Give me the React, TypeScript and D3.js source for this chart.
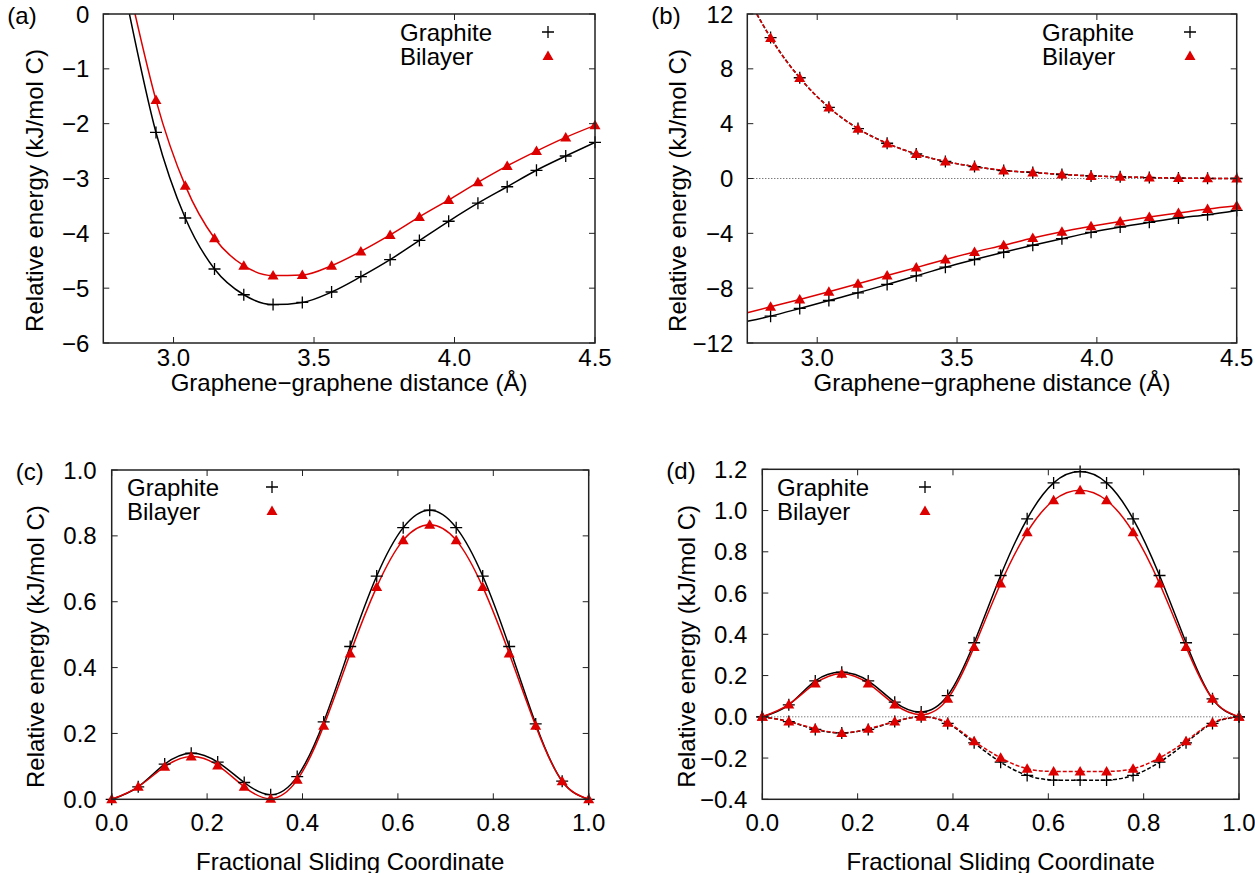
import React from 'react';
import * as d3 from 'd3';

// interlayer distance (Å)
const distA = [2.9375, 3.0417, 3.1458, 3.25, 3.3542, 3.4583, 3.5625, 3.6667, 3.7708, 3.875, 3.9792, 4.0833, 4.1875, 4.2917, 4.3958, 4.5];
const distB = [2.8333, 2.9375, 3.0417, 3.1458, 3.25, 3.3542, 3.4583, 3.5625, 3.6667, 3.7708, 3.875, 3.9792, 4.0833, 4.1875, 4.2917, 4.3958, 4.5];

// (a) total binding
const graphiteTotal = [-2.16, -3.72, -4.65, -5.12, -5.30, -5.26, -5.07, -4.79, -4.48, -4.13, -3.78, -3.45, -3.15, -2.85, -2.59, -2.34];
const bilayerTotal = [-1.57, -3.13, -4.09, -4.59, -4.77, -4.76, -4.59, -4.33, -4.03, -3.70, -3.39, -3.07, -2.77, -2.50, -2.25, -2.03];
// where the fitted curves leave the top of the frame
const graphiteTotalLead: [number, number] = [2.843, 0];
const bilayerTotalLead: [number, number] = [2.863, 0];

// (b) components
const graphiteAttr = [-10.04, -9.48, -8.90, -8.34, -7.73, -7.10, -6.47, -5.91, -5.38, -4.87, -4.39, -3.93, -3.54, -3.20, -2.88, -2.64, -2.33];
const bilayerAttr = [-9.35, -8.82, -8.26, -7.68, -7.08, -6.50, -5.91, -5.36, -4.87, -4.34, -3.88, -3.49, -3.13, -2.81, -2.52, -2.23, -1.99];
const graphiteRep = [10.28, 7.35, 5.19, 3.64, 2.57, 1.79, 1.24, 0.87, 0.58, 0.44, 0.29, 0.19, 0.12, 0.07, 0.03, 0.01, 0.0];
const bilayerRep = [10.25, 7.33, 5.18, 3.63, 2.56, 1.79, 1.24, 0.87, 0.59, 0.44, 0.30, 0.19, 0.12, 0.07, 0.03, 0.01, 0.0];
const graphiteAttrLead: [number, number] = [2.75, -10.42];
const bilayerAttrLead: [number, number] = [2.75, -9.80];
const repLead: [number, number] = [2.784, 12];

// sliding coordinate
const frac = [0, 0.0556, 0.1111, 0.1667, 0.2222, 0.2778, 0.3333, 0.3889, 0.4444, 0.5, 0.5556, 0.6111, 0.6667, 0.7222, 0.7778, 0.8333, 0.8889, 0.9444, 1];

// (c)
const graphiteSlideC = [0, 0.038, 0.107, 0.140, 0.113, 0.051, 0.014, 0.069, 0.235, 0.464, 0.678, 0.825, 0.878, 0.825, 0.678, 0.464, 0.229, 0.055, 0];
const bilayerSlideC = [0, 0.038, 0.099, 0.130, 0.103, 0.038, 0.002, 0.059, 0.223, 0.443, 0.645, 0.787, 0.834, 0.787, 0.645, 0.443, 0.223, 0.055, 0];

// (d)
const graphiteSlideD = [0, 0.058, 0.174, 0.216, 0.174, 0.071, 0.023, 0.103, 0.359, 0.685, 0.960, 1.134, 1.189, 1.134, 0.960, 0.685, 0.359, 0.087, 0];
const bilayerSlideD = [0, 0.060, 0.162, 0.209, 0.162, 0.060, 0.010, 0.087, 0.339, 0.646, 0.895, 1.050, 1.099, 1.050, 0.895, 0.646, 0.339, 0.087, 0];
const graphiteDispD = [0, -0.023, -0.061, -0.078, -0.061, -0.023, 0, -0.032, -0.126, -0.220, -0.284, -0.307, -0.307, -0.307, -0.284, -0.220, -0.126, -0.032, 0];
const bilayerDispD = [0, -0.023, -0.058, -0.078, -0.058, -0.023, 0, -0.029, -0.118, -0.199, -0.252, -0.265, -0.265, -0.265, -0.252, -0.199, -0.118, -0.029, 0];

const ticksDist = [3.0, 3.5, 4.0, 4.5];
const ticksFrac = [0, 0.2, 0.4, 0.6, 0.8, 1.0];
const ticksYA = [0, -1, -2, -3, -4, -5, -6];
const ticksYB = [12, 8, 4, 0, -4, -8, -12];
const ticksYC = [0, 0.2, 0.4, 0.6, 0.8, 1.0];
const ticksYD = [-0.4, -0.2, 0, 0.2, 0.4, 0.6, 0.8, 1.0, 1.2];

const RED = '#dd0000';
const FONT = '"Liberation Sans", Arial, Helvetica, sans-serif';
const minus = (s: string) => s.replace('-', '\u2212');

type Series = {
  xs: number[];
  ys: number[];
  lead?: [number, number];
  color: string;
  marker: 'plus' | 'tri';
  dashed?: boolean;
};

type PanelProps = {
  id: string;
  label: string;
  box: { l: number; r: number; t: number; b: number };
  xDomain: [number, number];
  yDomain: [number, number];
  xTicks: number[];
  yTicks: number[];
  xFmt: (v: number) => string;
  yFmt: (v: number) => string;
  xTitle: string;
  series: Series[];
  curve: d3.CurveFactory;
  zeroLine?: boolean;
  legend: { x: number; sym: number; y: number };
  yTitleX: number;
  xLabelY: number;
  xTitleY: number;
  tickGap: number;
};

const Marker = ({ kind, x, y, color }: { kind: string; x: number; y: number; color: string }) =>
  kind === 'plus' ? (
    <path d={`M${x - 6},${y}H${x + 6}M${x},${y - 6}V${y + 6}`} stroke={color} strokeWidth={1.3} fill="none" />
  ) : (
    <path d={`M${x},${y - 5.5}L${x + 5.5},${y + 4}L${x - 5.5},${y + 4}Z`} fill={color} />
  );

const Panel = (p: PanelProps) => {
  const { box } = p;
  const x = d3.scaleLinear().domain(p.xDomain).range([box.l, box.r]);
  const y = d3.scaleLinear().domain(p.yDomain).range([box.b, box.t]);
  const line = d3
    .line<[number, number]>()
    .x((d) => x(d[0]))
    .y((d) => y(d[1]))
    .curve(p.curve);
  const tl = 6;
  const midY = (box.t + box.b) / 2 + 12;
  return (
    <g fontFamily={FONT} fontSize={24}>
      <defs>
        <clipPath id={`clip-${p.id}`}>
          <rect x={box.l} y={box.t} width={box.r - box.l} height={box.b - box.t} />
        </clipPath>
      </defs>
      {p.zeroLine && (
        <line x1={box.l} x2={box.r} y1={y(0)} y2={y(0)} stroke="#444" strokeWidth={1} strokeDasharray="1,2" />
      )}
      <g clipPath={`url(#clip-${p.id})`}>
        {p.series.map((s, i) => {
          const pts: [number, number][] = s.xs.map((v, j) => [v, s.ys[j]]);
          if (s.lead) pts.unshift(s.lead);
          return (
            <path
              key={i}
              d={line(pts) || ''}
              fill="none"
              stroke={s.color}
              strokeWidth={1.5}
              strokeDasharray={s.dashed ? '4,2' : undefined}
            />
          );
        })}
      </g>
      {p.series.map((s, i) => (
        <g key={i}>
          {s.xs.map((v, j) => (
            <Marker key={j} kind={s.marker} x={x(v)} y={y(s.ys[j])} color={s.color} />
          ))}
        </g>
      ))}
      {/* frame and ticks */}
      <rect x={box.l} y={box.t} width={box.r - box.l} height={box.b - box.t} fill="none" stroke="#222" strokeWidth={1.5} />
      {p.xTicks.map((v) => (
        <g key={v}>
          <line x1={x(v)} x2={x(v)} y1={box.b} y2={box.b - tl} stroke="#222" strokeWidth={1} />
          <line x1={x(v)} x2={x(v)} y1={box.t} y2={box.t + tl} stroke="#222" strokeWidth={1} />
          <text x={x(v)} y={p.xLabelY} textAnchor="middle" dominantBaseline="central">
            {p.xFmt(v)}
          </text>
        </g>
      ))}
      {p.yTicks.map((v) => (
        <g key={v}>
          <line x1={box.l} x2={box.l + tl} y1={y(v)} y2={y(v)} stroke="#222" strokeWidth={1} />
          <line x1={box.r} x2={box.r - tl} y1={y(v)} y2={y(v)} stroke="#222" strokeWidth={1} />
          <text x={box.l - p.tickGap} y={y(v)} textAnchor="end" dominantBaseline="central">
            {p.yFmt(v)}
          </text>
        </g>
      ))}
      <text
        transform={`translate(${p.yTitleX},${midY}) rotate(-90)`}
        textAnchor="middle"
        dominantBaseline="central"
      >
        Relative energy (kJ/mol C)
      </text>
      <text x={(box.l + box.r) / 2} y={p.xTitleY} textAnchor="middle" dominantBaseline="central">
        {p.xTitle}
      </text>
      <text x={p.box.l - (p.id === 'a' || p.id === 'c' ? 96 : 96)} y={box.t + 1} dominantBaseline="central">
        {p.label}
      </text>
      {/* legend */}
      <text x={p.legend.x} y={p.legend.y} dominantBaseline="central">Graphite</text>
      <text x={p.legend.x} y={p.legend.y + 24} dominantBaseline="central">Bilayer</text>
      <Marker kind="plus" x={p.legend.sym} y={p.legend.y} color="#000" />
      <Marker kind="tri" x={p.legend.sym} y={p.legend.y + 24} color={RED} />
    </g>
  );
};

const fmtInt = (v: number) => minus(d3.format('d')(v));
const fmt1 = (v: number) => minus(d3.format('.1f')(v));

export default function App() {
  return (
    <svg width={1255} height={873} style={{ position: 'absolute', left: 0, top: 0, background: '#fff' }}>
      <Panel
        id="a"
        label="(a)"
        box={{ l: 103.3, r: 595, t: 14, b: 343 }}
        xDomain={[2.75, 4.5]}
        yDomain={[-6, 0]}
        xTicks={ticksDist}
        yTicks={ticksYA}
        xFmt={fmt1}
        yFmt={fmtInt}
        xTitle="Graphene−graphene distance (Å)"
        curve={d3.curveMonotoneX}
        series={[
          { xs: distA, ys: graphiteTotal, lead: graphiteTotalLead, color: '#000', marker: 'plus' },
          { xs: distA, ys: bilayerTotal, lead: bilayerTotalLead, color: RED, marker: 'tri' },
        ]}
        legend={{ x: 400, sym: 548, y: 32 }}
        yTitleX={34}
        xLabelY={357}
        xTitleY={382}
        tickGap={14}
      />
      <Panel
        id="b"
        label="(b)"
        box={{ l: 747.3, r: 1236.7, t: 14, b: 343 }}
        xDomain={[2.75, 4.5]}
        yDomain={[-12, 12]}
        xTicks={ticksDist}
        yTicks={ticksYB}
        xFmt={fmt1}
        yFmt={fmtInt}
        xTitle="Graphene−graphene distance (Å)"
        curve={d3.curveMonotoneX}
        zeroLine
        series={[
          { xs: distB, ys: graphiteRep, lead: repLead, color: '#000', marker: 'plus', dashed: true },
          { xs: distB, ys: graphiteAttr, lead: graphiteAttrLead, color: '#000', marker: 'plus' },
          { xs: distB, ys: bilayerRep, lead: repLead, color: RED, marker: 'tri', dashed: true },
          { xs: distB, ys: bilayerAttr, lead: bilayerAttrLead, color: RED, marker: 'tri' },
        ]}
        legend={{ x: 1042, sym: 1190, y: 32 }}
        yTitleX={677}
        xLabelY={357}
        xTitleY={382}
        tickGap={14}
      />
      <Panel
        id="c"
        label="(c)"
        box={{ l: 111.7, r: 588.7, t: 470, b: 799.3 }}
        xDomain={[0, 1]}
        yDomain={[0, 1]}
        xTicks={ticksFrac}
        yTicks={ticksYC}
        xFmt={fmt1}
        yFmt={fmt1}
        xTitle="Fractional Sliding Coordinate"
        curve={d3.curveNatural}
        series={[
          { xs: frac, ys: graphiteSlideC, color: '#000', marker: 'plus' },
          { xs: frac, ys: bilayerSlideC, color: RED, marker: 'tri' },
        ]}
        legend={{ x: 127, sym: 272, y: 487 }}
        yTitleX={35}
        xLabelY={822}
        xTitleY={861}
        tickGap={15}
      />
      <Panel
        id="d"
        label="(d)"
        box={{ l: 762.3, r: 1239, t: 469.3, b: 799.3 }}
        xDomain={[0, 1]}
        yDomain={[-0.4, 1.2]}
        xTicks={ticksFrac}
        yTicks={ticksYD}
        xFmt={fmt1}
        yFmt={fmt1}
        xTitle="Fractional Sliding Coordinate"
        curve={d3.curveNatural}
        zeroLine
        series={[
          { xs: frac, ys: graphiteDispD, color: '#000', marker: 'plus', dashed: true },
          { xs: frac, ys: graphiteSlideD, color: '#000', marker: 'plus' },
          { xs: frac, ys: bilayerDispD, color: RED, marker: 'tri', dashed: true },
          { xs: frac, ys: bilayerSlideD, color: RED, marker: 'tri' },
        ]}
        legend={{ x: 777, sym: 925, y: 487 }}
        yTitleX={686}
        xLabelY={822}
        xTitleY={861}
        tickGap={15}
      />
    </svg>
  );
}
